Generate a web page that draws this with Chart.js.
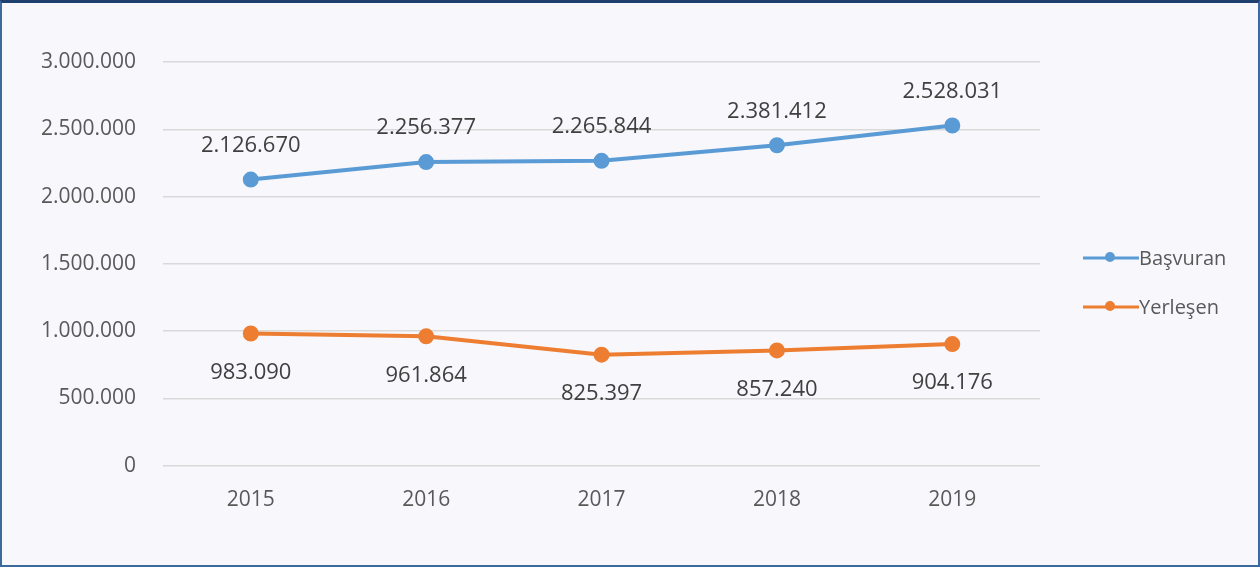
<!DOCTYPE html>
<html>
<head>
<meta charset="utf-8">
<script src="https://cdn.jsdelivr.net/npm/chart.js@4"></script>
<style>
  html, body { margin: 0; padding: 0; background: #fff; }
  #frame {
    box-sizing: border-box;
    width: 1260px; height: 567px;
    background: #f8f7fb;
    border: 2px solid #3d6a9e;
    border-top: 3px solid #1f3f6e;
  }
  #wrap { position: relative; width: 1256px; height: 562px; }
</style>
</head>
<body>
<div id="frame"><div id="wrap"><canvas id="chart"></canvas></div></div>
<script>
// Values
const years = ['2015', '2016', '2017', '2018', '2019'];
const basvuran = [2126670, 2256377, 2265844, 2381412, 2528031];
const yerlesen = [983090, 961864, 825397, 857240, 904176];
const seriesNames = ['Başvuran', 'Yerleşen'];

const BLUE = '#5b9bd5';
const ORANGE = '#ed7d31';
const FONT = '"Open Sans", "DejaVu Sans", sans-serif';

function fmt(v) {
    return String(Math.round(v)).replace(/\B(?=(\d{3})+(?!\d))/g, '.');
}

// value labels above (Başvuran) and below (Yerleşen) each point
const valueLabels = {
    id: 'valueLabels',
    afterDatasetsDraw(chart) {
        const ctx = chart.ctx;
        ctx.save();
        ctx.font = '22px ' + FONT;
        ctx.fillStyle = '#404040';
        ctx.textAlign = 'center';
        ctx.textBaseline = 'middle';
        chart.data.datasets.forEach((ds, i) => {
            const meta = chart.getDatasetMeta(i);
            meta.data.forEach((pt, j) => {
                const dy = i === 0 ? -34 : 39;
                ctx.fillText(fmt(ds.data[j]), pt.x, pt.y + dy);
            });
        });
        ctx.restore();
    }
};

// legend on the right: line sample with a dot, then the name
const sideLegend = {
    id: 'sideLegend',
    afterDraw(chart) {
        const ctx = chart.ctx;
        const x0 = chart.chartArea.right + 43;
        const rows = [255, 304];
        ctx.save();
        chart.data.datasets.forEach((ds, i) => {
            const y = rows[i];
            ctx.strokeStyle = ds.borderColor;
            ctx.lineWidth = 3;
            ctx.beginPath();
            ctx.moveTo(x0, y);
            ctx.lineTo(x0 + 56, y);
            ctx.stroke();
            ctx.fillStyle = ds.borderColor;
            ctx.beginPath();
            ctx.arc(x0 + 27, y - 1, 5, 0, Math.PI * 2);
            ctx.fill();
            ctx.fillStyle = '#595959';
            ctx.font = '20px ' + FONT;
            ctx.textAlign = 'left';
            ctx.textBaseline = 'middle';
            ctx.fillText(ds.label, x0 + 56, y + 1);
        });
        ctx.restore();
    }
};

new Chart(document.getElementById('chart'), {
    type: 'line',
    data: {
        labels: years,
        datasets: [{
            label: seriesNames[0],
            data: basvuran,
            borderColor: BLUE,
            backgroundColor: BLUE,
            borderWidth: 4,
            pointRadius: 6,
            pointHoverRadius: 6,
            tension: 0
        }, {
            label: seriesNames[1],
            data: yerlesen,
            borderColor: ORANGE,
            backgroundColor: ORANGE,
            borderWidth: 4,
            pointRadius: 6,
            pointHoverRadius: 6,
            tension: 0
        }]
    },
    options: {
        responsive: true,
        maintainAspectRatio: false,
        animation: false,
        layout: { padding: { top: 59, right: 218, bottom: 38, left: 12 } },
        plugins: {
            legend: { display: false },
            tooltip: { enabled: false }
        },
        scales: {
            x: {
                offset: true,
                grid: { display: false },
                border: { display: false },
                ticks: {
                    color: '#595959',
                    font: { family: FONT, size: 21 },
                    padding: 14
                }
            },
            y: {
                min: 0,
                max: 3000000,
                grid: { color: '#d9d9d9', lineWidth: 1.5, drawTicks: false },
                border: { display: false },
                ticks: {
                    stepSize: 500000,
                    color: '#595959',
                    font: { family: FONT, size: 21 },
                    padding: 27,
                    callback: v => fmt(v)
                }
            }
        }
    },
    plugins: [valueLabels, sideLegend]
});
</script>
</body>
</html>
